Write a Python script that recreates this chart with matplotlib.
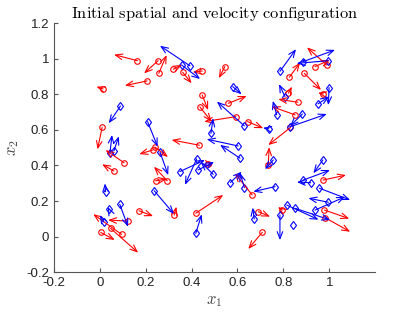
import numpy as np
import matplotlib
matplotlib.use("Agg")
import matplotlib.pyplot as plt

# red particles: position and velocity
red_x = [0.164, 0.254, 0.257, 0.320, 0.361, 0.446, 0.545, 0.446, 0.436, 0.560,
         0.593, 0.644, 0.434, 0.014, 0.206, 0.010, 0.106, 0.061, 0.121, 0.004,
         0.047, 0.095, 0.171, 0.324, 0.243, 0.294, 0.230, 0.240, 0.664, 0.418,
         0.691, 0.708, 0.734, 0.973, 0.979, 0.982, 0.795, 0.826, 0.891, 0.938,
         0.989, 0.974, 0.822, 0.863, 0.851, 0.831, 0.473]
red_y = [0.990, 0.990, 0.919, 0.942, 0.925, 0.932, 0.957, 0.797, 0.730, 0.750,
         0.675, 0.647, 0.514, 0.831, 0.876, 0.615, 0.415, 0.369, 0.087, 0.023,
         0.046, 0.012, 0.145, 0.121, 0.314, 0.314, 0.487, 0.504, 0.234, 0.131,
         0.140, 0.024, 0.403, 0.318, 0.149, 0.106, 0.149, 0.897, 0.919, 0.957,
         0.966, 0.803, 0.807, 0.756, 0.685, 0.614, 0.408]
red_u = [-0.102, -0.061, 0.034, 0.037, 0.039, -0.041, -0.026, 0.026, 0.051, 0.080,
         -0.138, 0.068, -0.121, -0.029, -0.097, -0.020, -0.081, -0.051, -0.085, 0.061,
         0.120, -0.124, 0.061, 0.010, 0.049, -0.058, -0.058, 0.057, -0.075, 0.120,
         0.051, -0.061, 0.004, 0.100, 0.108, 0.109, -0.019, 0.047, 0.073, 0.065,
         -0.086, -0.023, 0.015, -0.085, -0.102, -0.097, 0.021]
red_v = [0.034, -0.071, 0.103, 0.024, -0.062, -0.007, -0.065, -0.085, -0.083, 0.041,
         -0.028, -0.037, 0.030, 0.013, -0.026, -0.124, 0.072, 0.038, 0.006, -0.042,
         -0.137, 0.114, -0.030, 0.047, 0.010, 0.079, -0.023, -0.056, 0.122, 0.103,
         -0.028, -0.094, 0.100, 0.028, -0.048, -0.079, 0.017, 0.082, -0.094, 0.038,
         0.099, 0.006, 0.037, 0.017, 0.047, -0.099, -0.006]

# blue particles: position and velocity
blue_x = [0.356, 0.393, 0.579, 0.630, 0.737, 0.484, 0.603, 0.090, 0.208, 0.044,
          0.061, 0.025, 0.039, 0.087, 0.017, 0.237, 0.262, 0.349, 0.422, 0.428,
          0.494, 0.611, 0.569, 0.630, 0.764, 0.418, 0.673, 0.756, 0.785, 0.887,
          0.996, 0.999, 0.951, 0.807, 0.771, 0.883, 0.827, 0.972, 0.887, 0.919,
          0.957, 0.996, 0.938, 0.815, 0.851, 0.785, 0.843]
blue_y = [0.966, 0.961, 0.844, 0.623, 0.606, 0.581, 0.510, 0.735, 0.647, 0.469,
          0.482, 0.252, 0.155, 0.181, 0.082, 0.258, 0.476, 0.366, 0.437, 0.375,
          0.350, 0.441, 0.304, 0.275, 0.281, 0.018, 0.099, 0.431, 0.930, 0.985,
          0.990, 0.839, 0.747, 0.788, 0.685, 0.690, 0.617, 0.431, 0.318, 0.303,
          0.272, 0.193, 0.149, 0.177, 0.159, 0.121, 0.065]
blue_u = [0.081, -0.131, 0.039, -0.120, -0.026, 0.010, -0.137, -0.051, 0.044, 0.009,
          0.022, -0.003, -0.004, 0.036, -0.017, 0.086, 0.036, 0.109, -0.051, 0.070,
          -0.054, -0.087, 0.049, -0.019, -0.095, 0.026, -0.007, -0.036, 0.070, 0.138,
          -0.138, -0.003, 0.048, -0.026, -0.017, -0.054, 0.162, -0.041, 0.116, -0.060,
          0.134, -0.087, 0.131, 0.138, 0.153, 0.000, 0.000]
blue_v = [-0.079, 0.113, -0.043, 0.137, 0.006, 0.085, 0.038, -0.097, -0.141, 0.103,
          0.082, 0.047, 0.011, -0.126, 0.039, -0.131, -0.130, 0.065, -0.146, 0.045,
          0.069, 0.075, 0.061, 0.083, -0.028, 0.107, 0.064, -0.052, 0.125, 0.066,
          -0.015, -0.099, 0.041, 0.070, 0.079, -0.068, 0.073, -0.075, 0.056, 0.004,
          -0.066, 0.023, 0.075, -0.082, -0.066, -0.141, 0.005]

ticks = [-0.2, 0, 0.2, 0.4, 0.6, 0.8, 1]
tick_labels = ["-0.2", "0", "0.2", "0.4", "0.6", "0.8", "1"]
yticks = [-0.2, 0, 0.2, 0.4, 0.6, 0.8, 1, 1.2]
ytick_labels = ["-0.2", "0", "0.2", "0.4", "0.6", "0.8", "1", "1.2"]

plt.rcParams['font.family'] = ['Liberation Sans', 'DejaVu Sans']
plt.rcParams['mathtext.fontset'] = 'cm'

fig = plt.figure(figsize=(4.15, 3.12), dpi=100)
ax = fig.add_axes([0.130, 0.128, 0.774, 0.797])


def draw_arrows(xs, ys, us, vs, color):
    for x, y, u, v in zip(xs, ys, us, vs):
        if abs(u) + abs(v) < 0.012:
            continue
        ax.annotate("", xy=(x + u, y + v), xytext=(x, y),
                    arrowprops=dict(arrowstyle="->,head_length=0.5,head_width=0.2",
                                    color=color, lw=0.8, shrinkA=0, shrinkB=0))


draw_arrows(red_x, red_y, red_u, red_v, "red")
draw_arrows(blue_x, blue_y, blue_u, blue_v, "blue")
ax.plot(red_x, red_y, "o", mfc="none", mec="red", ms=4, mew=0.8)
ax.plot(blue_x, blue_y, "d", mfc="none", mec="blue", ms=4.5, mew=0.8)

ax.set_xlim(-0.2, 1.2)
ax.set_ylim(-0.2, 1.2)
ax.set_xticks(ticks)
ax.set_xticklabels(tick_labels)
ax.set_yticks(yticks)
ax.set_yticklabels(ytick_labels)
ax.spines['top'].set_visible(False)
ax.spines['right'].set_visible(False)
for s in ['left', 'bottom']:
    ax.spines[s].set_color('#555555')
    ax.spines[s].set_linewidth(0.8)
ax.tick_params(direction='in', length=3, width=0.8, colors='#555555',
               labelcolor='#222222', labelsize=9.5)

ax.set_title(r"$\mathrm{Initial\ spatial\ and\ velocity\ configuration}$",
             fontsize=11.8, pad=4)
ax.set_xlabel(r"$x_1$", fontsize=12, color='#444444')
ax.set_ylabel(r"$x_2$", fontsize=12, color='#444444')

fig.savefig("out.png", dpi=100)
